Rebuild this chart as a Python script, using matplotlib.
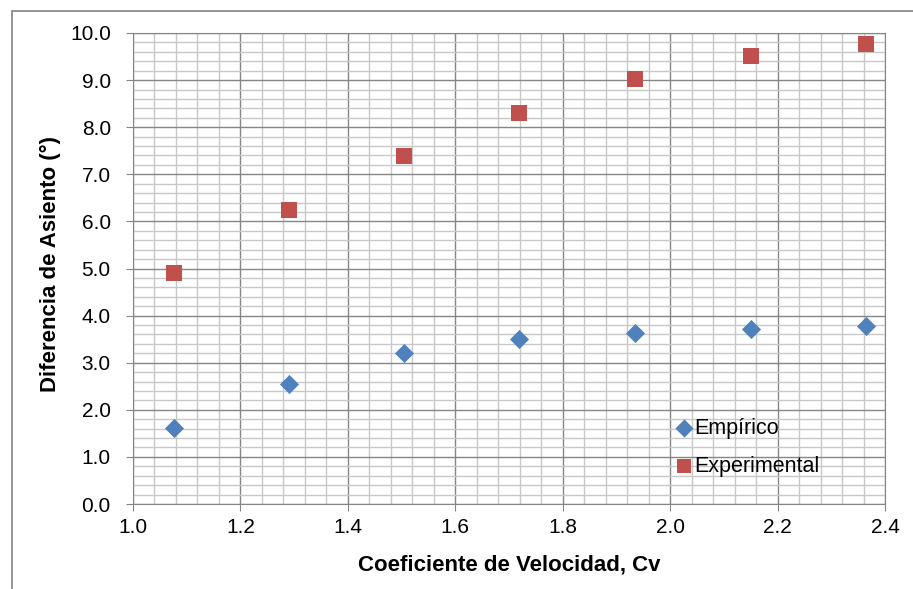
import numpy as np
import matplotlib.pyplot as plt
from matplotlib.patches import Rectangle
from matplotlib.ticker import MultipleLocator

cv = [1.077, 1.290, 1.505, 1.719, 1.934, 2.150, 2.365]
empirico = [1.61, 2.55, 3.21, 3.50, 3.63, 3.72, 3.78]
experimental = [4.90, 6.24, 7.39, 8.30, 9.02, 9.51, 9.77]

plt.rcParams['font.family'] = ['Liberation Sans', 'DejaVu Sans']

def plot_chart():
    fig = plt.figure(figsize=(9.13, 5.89), dpi=100)
    ax = fig.add_axes([133 / 913, 1 - 504 / 589, 752 / 913, 471 / 589])

    # outer chart frame (Excel style)
    fig.patches.append(Rectangle((12 / 913, -0.1), 1.2, 1 - 11 / 589 + 0.1,
                                 transform=fig.transFigure, fill=False,
                                 edgecolor="#8c8c8c", linewidth=1.3))

    ax.scatter(cv, empirico, marker="D", s=95, color="#4F81BD", label="Empírico", zorder=3, linewidths=0)
    ax.scatter(cv, experimental, marker="s", s=125, color="#C0504D", label="Experimental", zorder=3, linewidths=0)

    ax.set_xlim(1.0, 2.4)
    ax.set_ylim(0, 10)
    ax.xaxis.set_major_locator(MultipleLocator(0.2))
    ax.xaxis.set_minor_locator(MultipleLocator(0.04))
    ax.yaxis.set_major_locator(MultipleLocator(1.0))
    ax.yaxis.set_minor_locator(MultipleLocator(0.2))
    ax.xaxis.set_major_formatter(lambda v, p: f"{v:.1f}")
    ax.yaxis.set_major_formatter(lambda v, p: f"{v:.1f}")

    ax.grid(which="major", color="#868686", linewidth=1.0)
    ax.grid(which="minor", color="#c8c8c8", linewidth=1.0)
    ax.set_axisbelow(True)
    for s in ax.spines.values():
        s.set_color("#868686")
    ax.tick_params(which="major", length=5, color="#868686", labelsize=15)
    ax.tick_params(axis="y", pad=11)
    ax.tick_params(axis="x", pad=5)
    ax.tick_params(which="minor", length=0)

    ax.set_xlabel("Coeficiente de Velocidad, Cv", fontsize=16, fontweight="bold", labelpad=13)
    ax.set_ylabel("Diferencia de Asiento (°)", fontsize=16, fontweight="bold")
    ax.yaxis.set_label_coords(-0.096, 0.51)

    ax.legend(loc="lower left", bbox_to_anchor=(0.705, 0.035), frameon=False, fontsize=15.5,
              handletextpad=0.05, labelspacing=0.8, handlelength=0.9, borderpad=0,
              markerscale=0.95)

    fig.savefig("out.png", dpi=100)

def main():
    plot_chart()

if __name__ == "__main__":
    main()
